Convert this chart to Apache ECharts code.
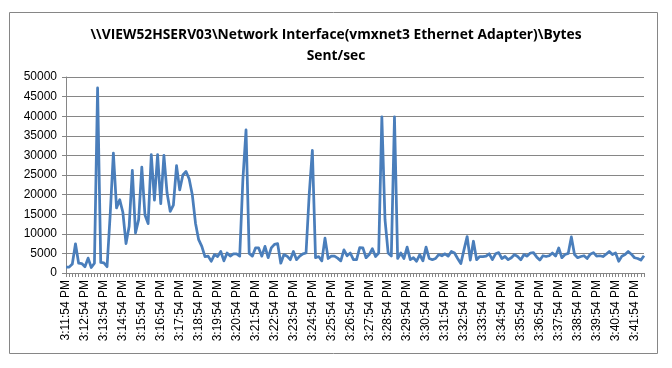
<!DOCTYPE html>
<html><head><meta charset="utf-8">
<script src="https://cdn.jsdelivr.net/npm/echarts@6/dist/echarts.min.js"></script>
<style>html,body{margin:0;padding:0;background:#fff}#c{width:672px;height:368px}</style>
</head><body><div id="c"></div>
<script>
// Bytes Sent/sec, one sample every 10 seconds starting 3:11:54 PM
const bytesSent = [
 1500,1500,2300,7450,2500,2400,1600,3800,1400,2500,
 47200,2700,2600,1600,15000,30600,16600,18700,15500,7500,
 11900,26200,10200,13600,27000,14800,12600,30200,18600,30200,
 17700,30000,20400,15700,17300,27400,21200,25000,25900,24000,
 19900,12700,8500,6800,4200,4300,3000,4700,4200,5500,
 3100,5100,4300,4900,4900,4300,23800,36500,5000,4300,
 6400,6400,4300,6800,3900,6400,7300,7500,2500,4700,
 4300,3400,5500,3400,4300,4900,5100,20000,31300,3900,
 4200,3100,8900,3700,4300,4300,3800,3100,5900,4400,
 5100,3400,3400,6500,6400,3900,4700,6200,4200,5100,
 39800,13600,5100,4300,39800,3700,5100,3700,6600,3400,
 3900,3000,4700,3100,6600,3700,3400,3700,4700,4400,
 4900,4300,5500,5100,3700,2400,5900,9300,3300,8100,
 3400,4200,4200,4300,4900,3400,4900,5200,3700,4200,
 3400,3900,4700,4200,3400,4700,4300,5100,5200,4100,
 3300,4400,4200,4400,5100,4300,6400,3900,4700,5000,
 9200,4700,3900,4200,4400,3700,4800,5200,4300,4400,
 4200,4800,5500,4700,5100,3000,4300,4700,5500,4800,
 3900,3700,3300,4400
];
const startSeconds = 15*3600 + 11*60 + 54; // 3:11:54 PM
const stepSeconds = 10;
const yTicks = {min: 0, max: 50000, interval: 5000};
const titleText = "\\\\VIEW52HSERV03\\Network Interface(vmxnet3 Ethernet Adapter)\\Bytes\nSent/sec";

function fmt(s){
  let h = Math.floor(s/3600), m = Math.floor((s%3600)/60), sec = s%60;
  const ap = h >= 12 ? 'PM' : 'AM';
  h = h % 12; if (h === 0) h = 12;
  return h + ':' + String(m).padStart(2,'0') + ':' + String(sec).padStart(2,'0') + ' ' + ap;
}
const categories = bytesSent.map((_, i) => fmt(startSeconds + i*stepSeconds));

const chart = echarts.init(document.getElementById('c'), null, {renderer:'canvas'});
chart.setOption({
  backgroundColor: '#fff',
  animation: false,
  title: {
    text: titleText,
    left: 'center', top: 20,
    textStyle: {fontFamily: 'Open Sans', fontWeight: 'bold', fontSize: 13.8, color: '#000', lineHeight: 21}
  },
  graphic: [{
    type: 'rect', shape: {x: 9.5, y: 12.5, width: 648, height: 341},
    style: {fill: 'none', stroke: '#868686', lineWidth: 1}, silent: true, z: -1
  }],
  grid: {left: 66, right: 28, top: 77, bottom: 95, containLabel: false},
  xAxis: {
    type: 'category', data: categories, boundaryGap: false,
    axisLine: {lineStyle: {color: '#868686', width: 1}},
    axisTick: {show: true, interval: 0, length: 4, lineStyle: {color: '#868686'}},
    axisLabel: {interval: 5, rotate: 90, fontFamily: 'Liberation Sans', fontSize: 12, color: '#000', margin: 7}
  },
  yAxis: {
    type: 'value', min: yTicks.min, max: yTicks.max, interval: yTicks.interval,
    axisLine: {show: true, lineStyle: {color: '#868686'}},
    axisTick: {show: true, length: 4, lineStyle: {color: '#868686'}},
    splitLine: {lineStyle: {color: '#868686', width: 1}},
    axisLabel: {fontFamily: 'Liberation Sans', fontSize: 12, color: '#000', margin: 9,
      formatter: v => String(v)}
  },
  series: [{
    type: 'line', data: bytesSent, showSymbol: false, symbol: 'none',
    lineStyle: {color: '#4A7EBB', width: 2.75, join: 'round'}
  }]
});
</script></body></html>
